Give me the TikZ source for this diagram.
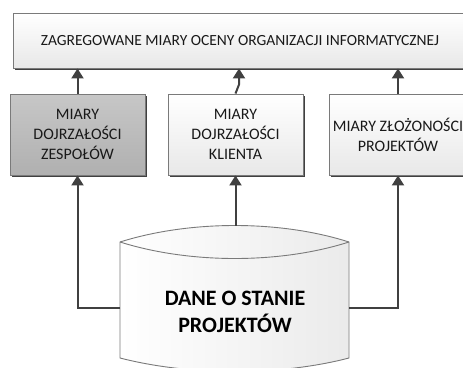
\documentclass[tikz,border=0pt]{standalone}
\usepackage{fontspec}
\setmainfont{Carlito}
\usetikzlibrary{arrows.meta,shadows}
\definecolor{edgegray}{HTML}{7A7A7A}
\definecolor{arrowgray}{HTML}{404040}
\tikzset{
  box/.style={draw=edgegray, line width=0.9pt, align=center,
    top color=white, bottom color=black!9,
    drop shadow={shadow xshift=1.6pt, shadow yshift=-1.6pt, fill=black!75, opacity=1},
    font=\fontsize{16}{20}\selectfont, text=black!90},
  darkbox/.style={box, top color=black!22, bottom color=black!31},
  arr/.style={draw=arrowgray, line width=2pt, -{Triangle[length=10pt 0 0,width=12pt 0 0]}},
}
\begin{document}
\begin{tikzpicture}[x=1pt,y=-1pt]
    \useasboundingbox (0,0) rectangle (463,367);
    % upper boxes
    \node[box, minimum width=454pt, minimum height=55pt, font=\fontsize{15.5}{18}\selectfont]
        (top) at (240,40.5) {ZAGREGOWANE MIARY OCENY ORGANIZACJI INFORMATYCZNEJ};
    \node[darkbox, minimum width=135pt, minimum height=81pt] (zesp) at (77.5,134.5)
        {MIARY\\DOJRZAŁOŚCI\\ZESPOŁÓW};
    \node[box, minimum width=135pt, minimum height=81pt] (klient) at (235.5,134.5)
        {MIARY\\DOJRZAŁOŚCI\\KLIENTA};
    \node[box, minimum width=132pt, minimum height=81pt] (proj) at (398,134.5)
        {MIARY ZŁOŻONOŚCI\\PROJEKTÓW};
    % cylinder
    \shade[left color=white, right color=black!8, draw=edgegray, line width=0.9pt]
        (120,242) .. controls (190,220) and (280,220) .. (349,242)
        -- (349,358) .. controls (280,376) and (190,376) .. (120,358) -- cycle;
    \draw[edgegray, line width=0.9pt] (120,242) .. controls (190,264) and (280,264) .. (349,242);
    \node[font=\fontsize{22}{27}\selectfont\bfseries, align=center] (dane) at (235,312)
        {DANE O STANIE\\PROJEKTÓW};
    \coordinate (cylL) at (120,308);
    \coordinate (cylR) at (349,308);
    \coordinate (cylT) at (235.5,225.5);
    % connectors
    \draw[arr] (cylL) -| (zesp.south);
    \draw[arr] (cylT) -- (klient.south);
    \draw[arr] (cylR) -| (proj.south);
    \draw[arr] (zesp.north) -- (zesp.north |- top.south);
    \draw[arr] (klient.north) -- ++(3.5,-9) coordinate (kink) -- (kink |- top.south);
    \draw[arr] (proj.north) -- (proj.north |- top.south);
\end{tikzpicture}
\end{document}
